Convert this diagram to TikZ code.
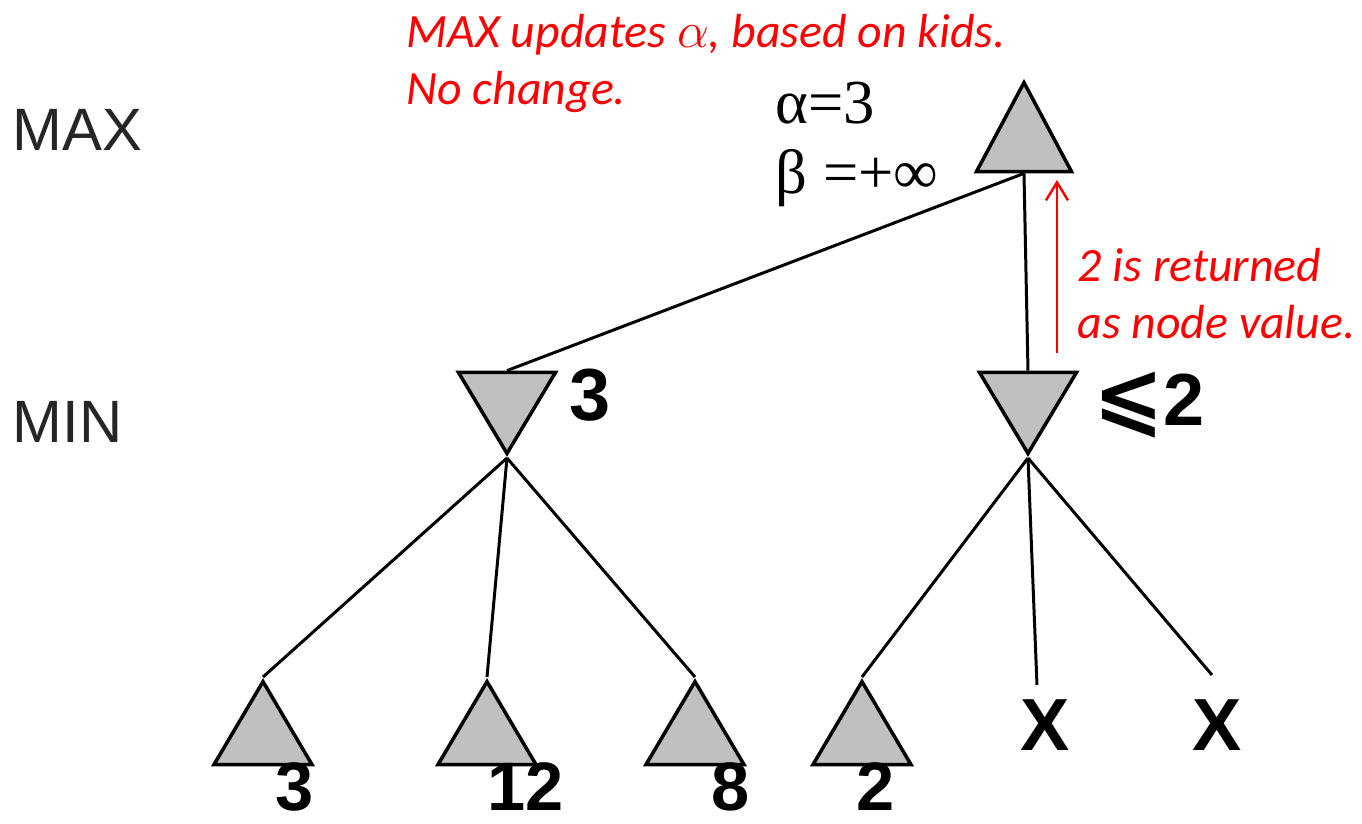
\documentclass[tikz,border=0pt]{standalone}
\usepackage{amsmath}
\usepackage{amssymb}
\usepackage{fontspec}
\setmainfont{Liberation Sans}
\newfontfamily\timesfont{Liberation Serif}
\newfontfamily\calibrifont{Carlito}
\newfontfamily\symbfont{DejaVu Sans}
\usetikzlibrary{shapes.geometric, arrows.meta, positioning}
\definecolor{nodegray}{HTML}{C0C0C0}
\definecolor{note}{HTML}{FF0000}
\tikzstyle{tri}      = [isosceles triangle, isosceles triangle stretches,
                        inner sep=0pt, draw=black, fill=nodegray,
                        line width=1pt, anchor=apex]
\tikzstyle{maxnode}  = [tri, shape border rotate=90,
                        minimum width=0.95cm, minimum height=0.89cm]
\tikzstyle{minnode}  = [tri, shape border rotate=270,
                        minimum width=0.97cm, minimum height=0.81cm]
\tikzstyle{leafnode} = [tri, shape border rotate=90,
                        minimum width=0.98cm, minimum height=0.83cm]
\tikzstyle{edge}     = [line width=0.85pt, black]
\tikzstyle{value}    = [font=\fontsize{21}{24}\selectfont\bfseries, inner sep=0pt]
\tikzstyle{leafval}  = [value, font=\fontsize{19.5}{22}\selectfont\bfseries]
\tikzstyle{level}    = [font=\fontsize{17}{20}\selectfont, black!85, inner sep=0pt]
\tikzstyle{bounds}   = [font=\timesfont\fontsize{17.8}{20}\selectfont, inner sep=0pt]
\tikzstyle{remark}   = [font=\calibrifont\itshape\fontsize{13.6}{16.2}\selectfont,
                        note, align=left, inner sep=0pt]
\tikzstyle{retarrow} = [-{Straight Barb[length=1.8mm, width=2.2mm]}, note, line width=0.7pt]

\begin{document}
\begin{tikzpicture}[x=0.01cm, y=-0.01cm]
  \useasboundingbox (0,0) rectangle (1362,823);

  %% level labels
  \node[level, anchor=west] (maxlabel) at (12,130) {MAX};
  \node[level, anchor=west] (minlabel) at (12,422) {MIN};

  %% tree nodes
  \node[maxnode]  (root)  at (1024,78)  {};
  \node[minnode]  (minL)  at (507,458)  {};
  \node[minnode]  (minR)  at (1028,458) {};
  \node[leafnode] (leafA) at (263,677)  {};
  \node[leafnode] (leafB) at (487,677)  {};
  \node[leafnode] (leafC) at (695,677)  {};
  \node[leafnode] (leafD) at (862,677)  {};

  %% pruned branches
  \node[value] (cutA) at (1045,725) {X};
  \node[value] (cutB) at (1217,725) {X};
  \coordinate (cutAend) at (1037,685);
  \coordinate (cutBend) at (1212,675);

  %% edges
  \draw[edge] (root.lower side) -- (minL.lower side);
  \draw[edge] (root.lower side) -- (minR.lower side);
  \draw[edge] (minL.apex) -- (leafA.apex);
  \draw[edge] (minL.apex) -- (leafB.apex);
  \draw[edge] (minL.apex) -- (leafC.apex);
  \draw[edge] (minR.apex) -- (leafD.apex);
  \draw[edge] (minR.apex) -- (cutAend);
  \draw[edge] (minR.apex) -- (cutBend);

  %% node values
  \node[leafval, below=-0.4mm of leafA.lower side, xshift=9] (valA) {3};
  \node[leafval, below=-0.4mm of leafB.lower side, xshift=11] (valB) {12};
  \node[leafval, below=-0.4mm of leafC.lower side, xshift=10] (valC) {8};
  \node[leafval, below=-0.4mm of leafD.lower side, xshift=4] (valD) {2};
  \node[value] (valL) at (590,395) {3};
  \node[value] (valR) at (1149,405)
    {{\symbfont\bfseries\fontsize{24}{24}\selectfont ⩽}2};

  %% alpha / beta at root
  \node[bounds, anchor=base west] (alpha) at (775,123) {α=3};
  \node[bounds, anchor=base west] (beta)  at (775,193) {β =+∞};

  %% remarks
  \node[remark, anchor=north west] (upd) at (406,14)
    {MAX updates $\alpha$, based on kids.\\No change.};
  \coordinate (retfoot) at (1057,353);
  \coordinate (rethead) at (1057,180);
  \draw[retarrow] (retfoot) -- (rethead);
  \node[remark, anchor=north west] (ret) at (1077,248)
    {2 is returned\\as node value.};

\end{tikzpicture}
\end{document}
